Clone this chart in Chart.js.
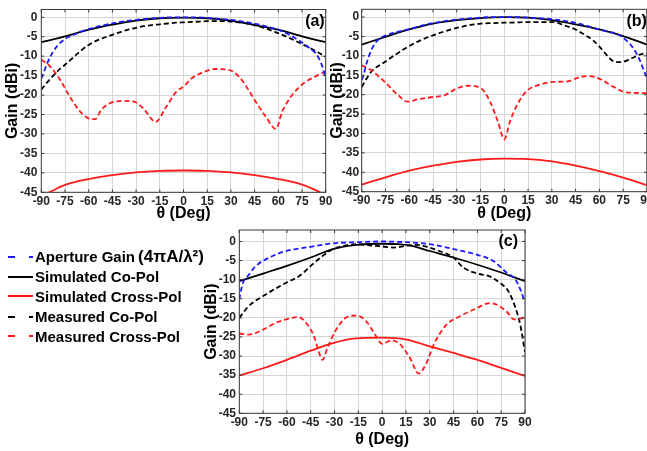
<!DOCTYPE html>
<html>
<head>
<meta charset="utf-8">
<script src="https://cdn.jsdelivr.net/npm/chart.js@4/dist/chart.umd.min.js"></script>
<style>
  html, body { margin: 0; padding: 0; background: #fff; }
  body { width: 647px; height: 451px; position: relative; overflow: hidden;
         font-family: "Liberation Sans", Arial, sans-serif; }
  canvas { position: absolute; }
  .row { position: absolute; left: 8px; height: 20px; display: flex; align-items: center;
         white-space: nowrap; font-weight: bold; font-size: 15px; color: #000; }
  .row svg { margin-right: 2px; }
  .formula { font-size: 17px; margin-left: 3px; }
</style>
</head>
<body>
<canvas id="panelA" width="336" height="224" style="left:0;top:0"></canvas>
<canvas id="panelB" width="326" height="224" style="left:321px;top:0"></canvas>
<canvas id="panelC" width="340" height="228" style="left:198px;top:222px"></canvas>
<div id="legend"></div>

<script>
// ---- axis ticks ----
const xTicks = [-90, -75, -60, -45, -30, -15, 0, 15, 30, 45, 60, 75, 90];
const yTicks = [-45, -40, -35, -30, -25, -20, -15, -10, -5, 0];
const panelTags = ['(a)', '(b)', '(c)'];
const seriesNames = ['Aperture Gain', 'Simulated Co-Pol', 'Simulated Cross-Pol', 'Measured Co-Pol', 'Measured Cross-Pol'];

// ---- panel (a) ----
const thetaApA = [-90, -88.5, -86, -83, -80, -75, -70, -63, -57, -50, -40, -30, -20, -10, 0, 10, 20, 30, 40, 50, 60, 65, 70, 75, 80, 84, 86, 88, 89, 90];
const gainApA  = [-15.8, -14.2, -11.6, -9.2, -7.4, -5.6, -4.6, -3.4, -2.7, -2.0, -1.2, -0.65, -0.3, -0.05, 0, -0.05, -0.3, -0.65, -1.25, -2.1, -3.2, -4.1, -5.2, -6.5, -8.0, -9.4, -10.8, -12.8, -14.3, -15.4];
const thetaSimCoA = [-90, -75, -60, -45, -30, -15, 0, 15, 30, 45, 60, 75, 90];
const gainSimCoA  = [-6.4, -4.9, -3.2, -1.9, -0.85, -0.25, -0.1, -0.25, -0.85, -2.0, -3.2, -4.9, -6.4];
const thetaSimXA = [-90, -84, -75, -60, -45, -30, -15, 0, 15, 30, 45, 60, 75, 84, 90];
const gainSimXA  = [-45.8, -44.8, -43.1, -41.6, -40.6, -39.9, -39.5, -39.4, -39.5, -39.9, -40.6, -41.6, -43.0, -44.5, -45.8];
const thetaMeasCoA = [-90, -86, -82, -78, -75, -70, -65, -60, -55, -50, -45, -40, -35, -30, -25, -20, -15, -10, -5, 0, 5, 10, 15, 20, 25, 30, 37, 44, 50, 57, 63, 70, 75, 80, 85, 90];
const gainMeasCoA  = [-18.6, -16.6, -14.8, -13.2, -12.2, -10.4, -8.6, -7.1, -6.0, -5.2, -4.5, -3.8, -3.2, -2.7, -2.3, -2.0, -1.8, -1.6, -1.4, -1.3, -1.2, -1.1, -1.0, -1.0, -1.0, -1.1, -1.4, -1.9, -2.6, -3.6, -4.6, -5.9, -6.9, -7.9, -9.0, -10.2];
const thetaMeasXA = [-90, -84.5, -78, -72, -65.5, -61, -56, -52, -47.5, -39, -32, -25.5, -17.5, -11.5, -4.5, 0, 5.5, 11.5, 20, 28.5, 35, 41, 45.5, 52, 58.5, 62.5, 69, 75, 83.5, 90];
const gainMeasXA  = [-10.9, -12.6, -16.1, -20.4, -24.2, -25.8, -26.2, -23.8, -22.3, -21.5, -21.6, -23.4, -26.9, -23.4, -19.1, -17.8, -15.6, -14.3, -13.3, -13.5, -15.2, -18.6, -21.6, -25.5, -28.7, -24.2, -19.9, -17.3, -15.2, -13.9];

// ---- panel (b) ----
const thetaApB = [-90, -89, -87, -84, -80, -75, -70, -60, -50, -40, -30, -20, -10, 0, 10, 20, 31, 46, 60, 66, 72, 77, 81.5, 85.5, 88.5, 90];
const gainApB  = [-16.2, -15.2, -12.0, -8.6, -6.0, -4.8, -4.1, -3.1, -2.0, -1.2, -0.65, -0.3, -0.05, 0, -0.05, -0.25, -0.6, -1.6, -3.2, -3.8, -4.5, -6.0, -8.1, -11.1, -14.2, -15.6];
const thetaSimCoB = [-90, -75, -60, -45, -30, -15, 0, 15, 30, 45, 60, 75, 90];
const gainSimCoB  = [-7.1, -5.1, -3.2, -1.7, -0.8, -0.25, 0, -0.15, -0.8, -1.9, -3.2, -4.9, -7.1];
const thetaSimXB = [-90, -75, -60, -45, -30, -15, 0, 15, 30, 45, 60, 75, 90];
const gainSimXB  = [-43.2, -41.3, -39.6, -38.3, -37.3, -36.7, -36.5, -36.6, -37.2, -38.3, -39.7, -41.4, -43.3];
const thetaMeasCoB = [-90, -84, -75.5, -68, -61, -53, -45, -37, -30, -22, -15, -7, 0, 7, 14, 22, 31, 39, 44, 48, 52, 56, 60, 63, 66, 69, 74, 80, 86, 90];
const gainMeasCoB  = [-18.0, -14.1, -11.6, -9.5, -7.7, -6.0, -4.7, -3.6, -2.8, -2.1, -1.7, -1.55, -1.45, -1.4, -1.3, -1.3, -1.3, -2.3, -3.0, -3.9, -4.9, -6.0, -7.6, -9.0, -10.4, -11.4, -11.6, -10.7, -9.6, -9.2];
const thetaMeasXB = [-90, -84, -75.5, -67, -61, -54.5, -45, -37.5, -30, -23, -14.5, -9, -4, 0, 3.5, 8, 14, 22.5, 31, 39.5, 48, 54, 60.5, 69, 77, 90];
const gainMeasXB  = [-12.4, -13.7, -16.7, -20.1, -21.8, -21.2, -20.6, -20.1, -18.4, -17.7, -18.4, -21.8, -27.0, -31.5, -27.0, -22.7, -19.1, -17.4, -16.7, -16.6, -15.4, -15.2, -16.0, -18.0, -19.4, -19.6];

// ---- panel (c) ----
const thetaApC = [-90, -88, -84.5, -79.5, -71, -60.5, -45, -31, -16.5, 0, 15, 30, 45, 60, 70, 78.5, 84, 87, 89, 90];
const gainApC  = [-15.2, -11.2, -9.0, -6.4, -4.2, -2.5, -1.4, -0.5, -0.2, 0, -0.2, -0.7, -2.0, -3.5, -5.1, -8.2, -10.0, -12.5, -14.8, -16.0];
const thetaSimCoC = [-90, -75, -60, -45, -31, -16, -1, 10, 18, 30, 45, 60, 74, 90];
const gainSimCoC  = [-10.4, -8.4, -6.4, -4.2, -2.0, -0.9, -0.6, -0.7, -1.1, -2.5, -4.2, -6.1, -8.0, -10.4];
const thetaSimXC = [-90, -75, -60, -45, -31, -16.5, 0, 15.5, 30, 45, 60, 74, 90];
const gainSimXC  = [-35.1, -33.2, -31.0, -28.6, -26.6, -25.4, -25.2, -25.7, -27.5, -29.2, -31.0, -33.0, -35.2];
const thetaMeasCoC = [-90, -84, -75, -60.5, -52, -45, -37.5, -31, -22.5, -14.5, -8, 0, 7, 15.5, 22, 29, 36, 45, 51, 60, 68, 74, 79.5, 84, 87, 90];
const gainMeasCoC  = [-20.0, -16.9, -14.3, -10.8, -9.0, -6.4, -3.8, -2.0, -1.0, -0.7, -1.0, -1.3, -1.6, -1.1, -0.9, -1.5, -2.5, -4.2, -6.8, -8.4, -9.2, -10.8, -13.0, -17.4, -21.8, -29.0];
const thetaMeasXC = [-90, -84, -75, -67, -58.5, -53, -47, -42.5, -40, -37.5, -34.5, -29, -23, -16.5, -10, -5, 0, 6, 11, 17.5, 23, 28, 32.5, 40.5, 49, 59.5, 67, 72, 78.5, 83, 87, 90];
const gainMeasXC  = [-24.1, -24.4, -23.1, -21.3, -20.2, -19.8, -21.8, -25.3, -28.8, -31.0, -27.9, -23.1, -20.0, -19.4, -20.9, -24.0, -26.8, -25.9, -26.8, -30.5, -34.6, -31.8, -27.0, -21.8, -19.6, -17.5, -16.2, -16.5, -18.4, -20.4, -20.2, -19.8];

// ---- styling ----
const FONT = "'Liberation Sans', Arial, sans-serif";
const BLUE = '#1a1aff', BLACK = '#000000', RED = '#ff1a1a';
const DASH = [5, 3];
const styles = [
  { color: BLUE,  dash: DASH },  // aperture gain
  { color: BLACK, dash: [] },    // simulated co-pol
  { color: RED,   dash: [] },    // simulated cross-pol
  { color: BLACK, dash: DASH },  // measured co-pol
  { color: RED,   dash: DASH }   // measured cross-pol
];
// drawing order: aperture gain on top
const drawOrder = [0, 4, 3, 2, 1];

function pts(theta, gain) { return theta.map((t, i) => ({ x: t, y: gain[i] })); }

// box frame with inward tick marks plus the panel tag
const framePlugin = {
  id: 'frame',
  afterDatasetsDraw(chart, args, opts) {
    const { ctx, chartArea: a, scales: { x, y } } = chart;
    ctx.save();
    ctx.strokeStyle = '#3a3a3a';
    ctx.lineWidth = 1;
    ctx.strokeRect(a.left, a.top, a.right - a.left, a.bottom - a.top);
    ctx.beginPath();
    xTicks.forEach(v => {
      const p = x.getPixelForValue(v);
      ctx.moveTo(p, a.bottom); ctx.lineTo(p, a.bottom - 3);
      ctx.moveTo(p, a.top); ctx.lineTo(p, a.top + 3);
    });
    yTicks.forEach(v => {
      const p = y.getPixelForValue(v);
      ctx.moveTo(a.left, p); ctx.lineTo(a.left + 3, p);
      ctx.moveTo(a.right, p); ctx.lineTo(a.right - 3, p);
    });
    ctx.stroke();
    ctx.fillStyle = '#000';
    ctx.font = 'bold 16px ' + FONT;
    ctx.textAlign = 'right';
    ctx.textBaseline = 'middle';
    ctx.fillText(opts.tag, a.right - opts.tagRight, a.top + opts.tagDown);
    ctx.restore();
  }
};

function buildPanel(id, g, seriesList, yMax, tag) {
  const canvas = document.getElementById(id);
  const W = canvas.width, H = canvas.height;
  const datasets = drawOrder.map(k => ({
    label: seriesNames[k],
    data: pts(seriesList[k][0], seriesList[k][1]),
    borderColor: styles[k].color,
    borderDash: styles[k].dash,
    borderWidth: 1.8,
    pointRadius: 0,
    fill: false,
    cubicInterpolationMode: 'monotone'
  }));
  return new Chart(canvas, {
    type: 'line',
    data: { datasets },
    options: {
      responsive: false,
      animation: false,
      devicePixelRatio: 1,
      layout: { padding: { left: 0, top: g.top, right: W - g.right, bottom: 0 } },
      plugins: {
        legend: { display: false },
        tooltip: { enabled: false },
        frame: { tag, tagRight: g.tagRight, tagDown: g.tagDown }
      },
      scales: {
        x: {
          type: 'linear', min: -90, max: 90,
          afterBuildTicks: s => { s.ticks = xTicks.map(v => ({ value: v })); },
          afterFit: s => { s.height = H - g.bottom; s.paddingLeft = 0; s.paddingRight = 0; },
          grid: { color: '#d6d6d6', lineWidth: 1, drawTicks: false },
          border: { display: false },
          ticks: { autoSkip: false, maxRotation: 0, padding: g.xTickPad, color: '#262626',
                   font: { family: FONT, size: 12, weight: 'bold' } },
          title: { display: true, text: 'θ (Deg)', color: '#000',
                   font: { family: FONT, size: 16, weight: 'bold' },
                   padding: { top: 0, bottom: g.xTitlePad } }
        },
        y: {
          type: 'linear', min: -45, max: yMax,
          afterBuildTicks: s => { s.ticks = yTicks.map(v => ({ value: v })); },
          afterFit: s => { s.width = g.left; s.paddingTop = 0; s.paddingBottom = 0; },
          grid: { color: '#d6d6d6', lineWidth: 1, drawTicks: false },
          border: { display: false },
          ticks: { autoSkip: false, padding: g.yTickPad, color: '#262626',
                   font: { family: FONT, size: 12, weight: 'bold' } },
          title: { display: true, text: 'Gain (dBi)', color: '#000',
                   font: { family: FONT, size: 16, weight: 'bold' },
                   padding: { top: g.yTitlePad, bottom: 0 } }
        }
      }
    },
    plugins: [framePlugin]
  });
}

buildPanel('panelA',
  { left: 41.3, top: 9.5, right: 325.7, bottom: 192.3, xTickPad: 2.2, yTickPad: 4,
    xTitlePad: 0.4, yTitlePad: 3.4, tagRight: 1, tagDown: 12.2 },
  [[thetaApA, gainApA], [thetaSimCoA, gainSimCoA], [thetaSimXA, gainSimXA],
   [thetaMeasCoA, gainMeasCoA], [thetaMeasXA, gainMeasXA]], 2, panelTags[0]);

buildPanel('panelB',
  { left: 40.7, top: 9.3, right: 325.9, bottom: 191.7, xTickPad: 2.2, yTickPad: 2.5,
    xTitlePad: 0.9, yTitlePad: 7.4, tagRight: 0, tagDown: 12.4 },
  [[thetaApB, gainApB], [thetaSimCoB, gainSimCoB], [thetaSimXB, gainSimXB],
   [thetaMeasCoB, gainMeasCoB], [thetaMeasXB, gainMeasXB]], 2, panelTags[1]);

buildPanel('panelC',
  { left: 41.3, top: 8, right: 327, bottom: 191.3, xTickPad: 2.2, yTickPad: 3.3,
    xTitlePad: 0.4, yTitlePad: 4.1, tagRight: 7, tagDown: 11.7 },
  [[thetaApC, gainApC], [thetaSimCoC, gainSimCoC], [thetaSimXC, gainSimXC],
   [thetaMeasCoC, gainMeasCoC], [thetaMeasXC, gainMeasXC]], 3, panelTags[2]);

// ---- legend ----
const legendRowsY = [256.7, 276.7, 296.3, 316.5, 336.2];
const legend = document.getElementById('legend');
seriesNames.forEach((name, k) => {
  const row = document.createElement('div');
  row.className = 'row';
  row.style.top = (legendRowsY[k] - 10) + 'px';
  const dashAttr = styles[k].dash.length ? ' stroke-dasharray="7 14"' : '';
  row.innerHTML =
    '<svg width="25" height="6"><line x1="0" y1="3" x2="25" y2="3" stroke="' + styles[k].color +
    '" stroke-width="2"' + dashAttr + '/></svg><span>' + name + '</span>' +
    (k === 0 ? '<span class="formula">(4πA/λ²)</span>' : '');
  legend.appendChild(row);
});
</script>
</body>
</html>
